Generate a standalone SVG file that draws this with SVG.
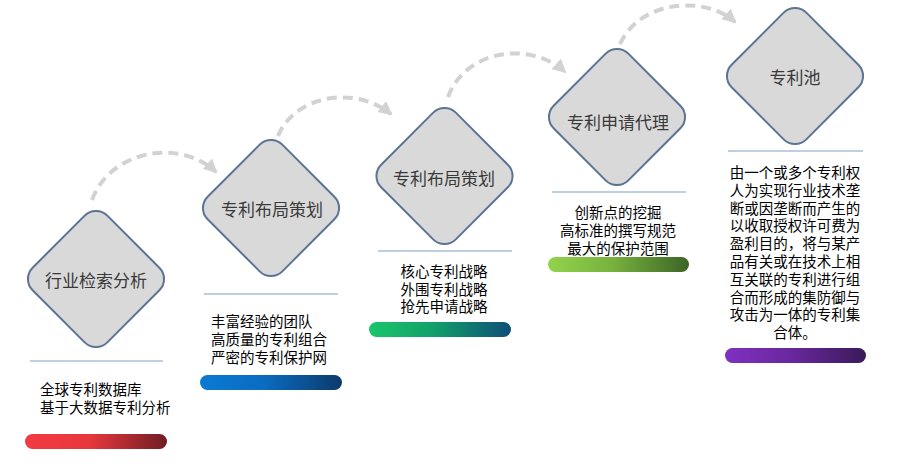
<svg xmlns="http://www.w3.org/2000/svg" width="919" height="474" viewBox="0 0 919 474">
<defs>
<style>
.dia{fill:#d9d9d9;stroke:#5b7495;stroke-width:2}
.lbl{font-family:"Noto Sans CJK SC","Noto Sans",sans-serif;font-size:17px;fill:#3a3a3a;text-anchor:middle;dominant-baseline:central}
.txt{font-family:"Noto Sans CJK SC","Noto Sans",sans-serif;font-size:14.5px;fill:#000}
.sep{stroke:#7f9fc0;stroke-width:1.2}
.arr{fill:none;stroke:#d2d2d2;stroke-width:4;stroke-dasharray:10 6}
</style>
<marker id="ah" markerUnits="userSpaceOnUse" markerWidth="16" markerHeight="16" refX="12" refY="8" orient="auto">
<path d="M0,1 L14,8 L0,15 Z" fill="#d2d2d2"/>
</marker>
<linearGradient id="g1" x1="0" x2="1" y1="0" y2="0"><stop offset="0" stop-color="#f23a41"/><stop offset="0.45" stop-color="#e8383d"/><stop offset="1" stop-color="#6f1d24"/></linearGradient>
<linearGradient id="g2" x1="0" x2="1" y1="0" y2="0"><stop offset="0" stop-color="#0b7ad4"/><stop offset="0.45" stop-color="#0a6cc0"/><stop offset="1" stop-color="#0c3a6a"/></linearGradient>
<linearGradient id="g3" x1="0" x2="1" y1="0" y2="0"><stop offset="0" stop-color="#1ac66a"/><stop offset="0.45" stop-color="#12a06a"/><stop offset="1" stop-color="#0e4e78"/></linearGradient>
<linearGradient id="g4" x1="0" x2="1" y1="0" y2="0"><stop offset="0" stop-color="#92d44c"/><stop offset="0.45" stop-color="#78b23e"/><stop offset="1" stop-color="#3c6526"/></linearGradient>
<linearGradient id="g5" x1="0" x2="1" y1="0" y2="0"><stop offset="0" stop-color="#7f30c0"/><stop offset="0.45" stop-color="#6a28a0"/><stop offset="1" stop-color="#3a1a58"/></linearGradient>
</defs>
<g id="connectors">
<path class="arr" d="M92,200 C110,150 180,138 216,172" marker-end="url(#ah)"/>
<path class="arr" d="M278,136 C295,95 355,85 391,114" marker-end="url(#ah)"/>
<path class="arr" d="M448,97 C465,50 530,40 565,72" marker-end="url(#ah)"/>
<path class="arr" d="M620,44 C640,0 705,-5 735,22" marker-end="url(#ah)"/>
</g>
<g id="node1">
<rect class="dia" x="-52.8" y="-52.8" width="105.6" height="105.6" rx="16" transform="translate(96,279) rotate(45)"/>
<text class="lbl" x="96" y="279">行业检索分析</text>
<line class="sep" x1="30" y1="361" x2="163" y2="361"/>
<text class="txt" x="40" y="395">全球专利数据库<tspan x="40" dy="18">基于大数据专利分析</tspan></text>
<rect x="25" y="434" width="142" height="15" rx="7.5" fill="url(#g1)"/>
</g>
<g id="node2">
<rect class="dia" x="-52.8" y="-52.8" width="105.6" height="105.6" rx="16" transform="translate(271,208) rotate(45)"/>
<text class="lbl" x="272" y="208">专利布局策划</text>
<line class="sep" x1="204" y1="294" x2="338" y2="294"/>
<text class="txt" x="211" y="327">丰富经验的团队<tspan x="211" dy="18">高质量的专利组合</tspan><tspan x="211" dy="18">严密的专利保护网</tspan></text>
<rect x="200" y="375" width="142" height="15" rx="7.5" fill="url(#g2)"/>
</g>
<g id="node3">
<rect class="dia" x="-52.8" y="-52.8" width="105.6" height="105.6" rx="16" transform="translate(444.5,176) rotate(45)"/>
<text class="lbl" x="444" y="177">专利布局策划</text>
<line class="sep" x1="378" y1="251" x2="512" y2="251"/>
<text class="txt" x="444" y="277" text-anchor="middle">核心专利战略<tspan x="444" dy="17.5">外围专利战略</tspan><tspan x="444" dy="17.5">抢先申请战略</tspan></text>
<rect x="369" y="322" width="142" height="15" rx="7.5" fill="url(#g3)"/>
</g>
<g id="node4">
<rect class="dia" x="-52.8" y="-52.8" width="105.6" height="105.6" rx="16" transform="translate(617,117) rotate(45)"/>
<text class="lbl" x="618" y="121">专利申请代理</text>
<line class="sep" x1="552" y1="192" x2="686" y2="192"/>
<text class="txt" x="618" y="218" text-anchor="middle">创新点的挖掘<tspan x="618" dy="18">高标准的撰写规范</tspan><tspan x="618" dy="18">最大的保护范围</tspan></text>
<rect x="548" y="257" width="141" height="15" rx="7.5" fill="url(#g4)"/>
</g>
<g id="node5">
<rect class="dia" x="-52.8" y="-52.8" width="105.6" height="105.6" rx="16" transform="translate(795,76) rotate(45)"/>
<text class="lbl" x="795" y="76">专利池</text>
<line class="sep" x1="728" y1="151" x2="863" y2="151"/>
<text class="txt" x="795" y="178" text-anchor="middle">由一个或多个专利权<tspan x="795" dy="17.8">人为实现行业技术垄</tspan><tspan x="795" dy="17.8">断或因垄断而产生的</tspan><tspan x="795" dy="17.8">以收取授权许可费为</tspan><tspan x="795" dy="17.8">盈利目的，将与某产</tspan><tspan x="795" dy="17.8">品有关或在技术上相</tspan><tspan x="795" dy="17.8">互关联的专利进行组</tspan><tspan x="795" dy="17.8">合而形成的集防御与</tspan><tspan x="795" dy="17.8">攻击为一体的专利集</tspan><tspan x="795" dy="17.8">合体。</tspan></text>
<rect x="725" y="348" width="141" height="15" rx="7.5" fill="url(#g5)"/>
</g>
</svg>
